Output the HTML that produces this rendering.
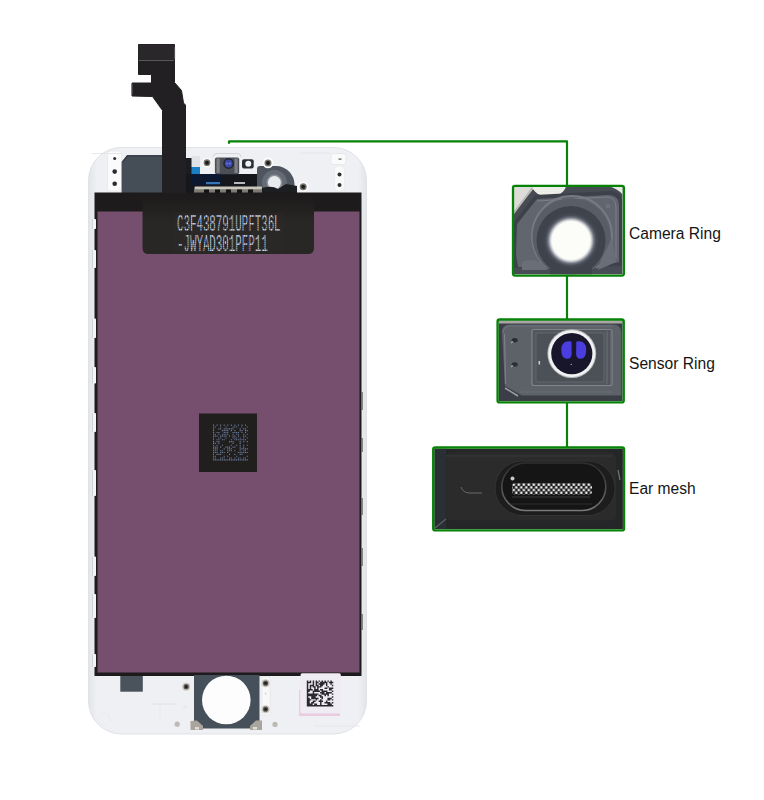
<!DOCTYPE html>
<html><head><meta charset="utf-8">
<style>
html,body{margin:0;padding:0;background:#fff;width:764px;height:800px;overflow:hidden}
svg{position:absolute;left:0;top:0}
.lbl{position:absolute;font-family:"Liberation Sans",sans-serif;font-size:15.6px;color:#151515;white-space:nowrap;line-height:1}
</style></head><body>
<svg width="764" height="800" viewBox="0 0 764 800">
  <defs>
    <linearGradient id="frameL" x1="0" x2="1" y1="0" y2="0">
      <stop offset="0" stop-color="#e2e4e8"/>
      <stop offset="0.03" stop-color="#eff0f3"/>
      <stop offset="0.97" stop-color="#eff0f3"/>
      <stop offset="1" stop-color="#e2e4e8"/>
    </linearGradient>
    <radialGradient id="glow" cx="0.5" cy="0.5" r="0.5">
      <stop offset="0.69" stop-color="#f6f6f0"/>
      <stop offset="0.75" stop-color="#c0c3ca"/>
      <stop offset="0.82" stop-color="#6f7480"/>
      <stop offset="0.9" stop-color="#484c56"/>
      <stop offset="1" stop-color="#3f434c"/>
    </radialGradient>
    <radialGradient id="camring" cx="0.5" cy="0.5" r="0.5">
      <stop offset="0.5" stop-color="#3a3f48"/>
      <stop offset="0.8" stop-color="#4a4f58"/>
      <stop offset="1" stop-color="#5e636c"/>
    </radialGradient>
  </defs>

  <!-- phone frame -->
  <rect x="88.5" y="147.5" width="278" height="586.5" rx="33" ry="33" fill="url(#frameL)" stroke="#dfe2e6" stroke-width="1"/>

  <!-- top left raised strip with screws -->
  <rect x="107.5" y="151" width="14" height="40" rx="3" fill="#fbfbfc" stroke="#e6e8eb" stroke-width="0.8"/>
  <circle cx="114.7" cy="158.5" r="1.5" fill="#2a2c30"/>
  <circle cx="114.7" cy="171.6" r="2.3" fill="#2a2c30"/>
  <circle cx="114.7" cy="183.7" r="2.3" fill="#2a2c30"/>

  <!-- dark grey panel top-left -->
  <path d="M121.6,162 L127,155 L163,155 L163,193 L121.6,193 Z" fill="#454d57"/>
  <path d="M122.5,162 L127.5,156 L162,156" fill="none" stroke="#343a44" stroke-width="1.2"/>
  <path d="M92,153.5 L122,153.5 M300,153 L330,153" stroke="#e0e2e6" stroke-width="0.8"/>

  <!-- top right bump and screws -->
  <rect x="331" y="153.6" width="15" height="11" rx="2" fill="#fafafb" stroke="#e2e4e8" stroke-width="0.8"/>
  <rect x="338.5" y="158.5" width="3" height="1.2" fill="#555"/>
  <rect x="334.5" y="166" width="10" height="25" rx="4" fill="#f9f9fa" stroke="#e6e8eb" stroke-width="0.6"/>
  <circle cx="339.5" cy="174.5" r="2" fill="#2a2c30"/>
  <circle cx="339.5" cy="185" r="2" fill="#2a2c30"/>

  <!-- top middle components -->
  <rect x="186" y="158" width="6" height="35" fill="#1a1c22"/>
  <rect x="186" y="174" width="78" height="19" fill="#15171c"/>
  <rect x="191.5" y="156" width="8.5" height="11" fill="#dfe3e8"/>
  <rect x="191.5" y="167" width="8.5" height="7" fill="#1a7fc4"/>
  <rect x="191" y="174" width="30" height="11" fill="#0c1830"/>
  <rect x="206" y="182" width="14" height="2.2" fill="#3576b8"/>
  <circle cx="207" cy="162.7" r="4.8" fill="#fdfdfd"/>
  <circle cx="207" cy="162.7" r="3.4" fill="#77736f"/>
  <circle cx="207" cy="162.7" r="2" fill="#1b1b1b"/>
  <!-- sensor module -->
  <path d="M213,157 Q213,153.5 217,153.5 L237,153.5 Q241,153.5 241,157" fill="none" stroke="#d3d5d9" stroke-width="1"/>
  <rect x="214.9" y="157.6" width="24.3" height="16.6" rx="2" fill="#4c5056"/>
  <rect x="216.5" y="158.5" width="3.2" height="14.5" fill="#8d9197" opacity="0.75"/>
  <rect x="234.5" y="158.5" width="3.2" height="14.5" fill="#8d9197" opacity="0.75"/>
  <circle cx="228.6" cy="163.5" r="5.4" fill="#23262e"/>
  <circle cx="228.6" cy="163.5" r="3.9" fill="#3b47a6"/>
  <circle cx="227.2" cy="163.6" r="1.1" fill="#6c78d6"/>
  <circle cx="230" cy="163.6" r="1.1" fill="#6c78d6"/>
  <!-- proximity -->
  <rect x="242" y="159.2" width="11.7" height="9.2" rx="2" fill="#2b2e33"/>
  <circle cx="248.3" cy="163.8" r="3" fill="#f0f1f3"/>
  <rect x="234" y="182" width="11" height="2" fill="#b5b8bd"/>
  <!-- camera ring -->
  <path d="M257,169 Q257,166 260,166 L276,166 A18.5,18.5 0 0 1 294.5,184.5 L294.5,193 L257,193 Z" fill="#4f555e"/>
  <circle cx="274.4" cy="182.6" r="12.5" fill="#656b74"/>
  <circle cx="274.4" cy="182.6" r="8" fill="#8a9098"/>
  <circle cx="274.4" cy="182.6" r="6.5" fill="#e9eaee"/>
  <!-- screw -->
  <circle cx="268" cy="162.9" r="5.4" fill="#fdfdfd"/>
  <circle cx="268" cy="162.9" r="3.5" fill="#77736f"/>
  <circle cx="268" cy="162.9" r="2" fill="#1b1b1b"/>
  <!-- connector strip -->
  <rect x="194" y="189" width="68" height="4" fill="#7d7a72"/>
  <rect x="194.5" y="186.6" width="67.5" height="2.6" rx="1" fill="#c9c6bc"/>
  <g fill="#121212">
    <rect x="204" y="189.5" width="5" height="3.5"/><rect x="215" y="189.5" width="5" height="3.5"/><rect x="226" y="189.5" width="5" height="3.5"/>
    <rect x="237" y="189.5" width="5" height="3.5"/><rect x="248" y="189.5" width="5" height="3.5"/>
  </g>
  <path d="M262,193 L262,188 Q272,185 278,189 L286,184 L297,186 L297,193 Z" fill="#1d1e22"/>
  <!-- screw right of camera -->
  <circle cx="303.2" cy="186.7" r="5" fill="#fdfdfd"/>
  <circle cx="303.2" cy="186.7" r="3.5" fill="#77736f"/>
  <circle cx="303.2" cy="186.7" r="2" fill="#1b1b1b"/>

  <!-- black display border -->
  <rect x="94.5" y="192.5" width="267" height="483.5" fill="#1d1b1b"/>
  <!-- purple -->
  <rect x="97.5" y="211.5" width="262" height="461" fill="#764f6f"/>

  <!-- edge tabs -->
  <g fill="#f4f5f7"><rect x="92" y="219" width="4" height="10" rx="0.8"/><rect x="92" y="250" width="4" height="18" rx="0.8"/><rect x="92" y="318.5" width="4" height="19.5" rx="0.8"/><rect x="92" y="367" width="4" height="16.5" rx="0.8"/><rect x="92" y="413" width="4" height="19" rx="0.8"/><rect x="92" y="470" width="4" height="26" rx="0.8"/><rect x="92" y="556.5" width="4" height="19.5" rx="0.8"/><rect x="92" y="594" width="4" height="24" rx="0.8"/><rect x="92" y="654" width="4" height="13" rx="0.8"/></g><g fill="#c9cbcf"><rect x="92" y="219" width="0.8" height="10"/><rect x="92" y="250" width="0.8" height="18"/><rect x="92" y="318.5" width="0.8" height="19.5"/><rect x="92" y="367" width="0.8" height="16.5"/><rect x="92" y="413" width="0.8" height="19"/><rect x="92" y="470" width="0.8" height="26"/><rect x="92" y="556.5" width="0.8" height="19.5"/><rect x="92" y="594" width="0.8" height="24"/><rect x="92" y="654" width="0.8" height="13"/></g><g fill="#6d6e72"><rect x="361.2" y="392" width="1.6" height="18"/><rect x="361.2" y="438" width="1.6" height="14"/><rect x="361.2" y="498" width="1.6" height="17"/><rect x="361.2" y="548" width="1.6" height="18"/><rect x="361.2" y="614" width="1.6" height="16"/></g>
  <!-- serial label -->
  <linearGradient id="lblg" gradientUnits="userSpaceOnUse" x1="0" y1="196" x2="0" y2="222"><stop offset="0" stop-color="#1d1b1b"/><stop offset="1" stop-color="#292725"/></linearGradient>
  <path d="M142.5,193 L314,193 L314,248 Q314,254 308,254 L148.5,254 Q142.5,254 142.5,248 Z" fill="url(#lblg)"/>
  <g font-family="Liberation Mono" font-size="20" fill="#d0dcf0">
    <text transform="translate(177,230.9) scale(0.54,1.16)">C3F438791UPFT36L</text>
    <text transform="translate(177,250.9) scale(0.54,1.16)">-JWYAD301PFP11</text>
  </g>
  <pattern id="dots" x="0" y="0" width="2.1" height="2.1" patternUnits="userSpaceOnUse">
    <rect x="0" y="1.35" width="2.1" height="0.75" fill="#2b2927" opacity="0.5"/>
    <rect x="1.35" y="0" width="0.75" height="2.1" fill="#2b2927" opacity="0.5"/>
  </pattern>
  <rect x="174" y="213" width="110" height="40" fill="url(#dots)"/>
  <!-- QR center -->
  <rect x="199" y="413.5" width="58" height="58.5" fill="#211e1e"/>
  <path transform="translate(213,424.6) scale(1.7750,1.8250)" fill="#6a7fa0" d="M0 0h0.62v0.62h-0.62zM2 0h0.62v0.62h-0.62zM4 0h0.62v0.62h-0.62zM6 0h0.62v0.62h-0.62zM8 0h0.62v0.62h-0.62zM10 0h0.62v0.62h-0.62zM12 0h0.62v0.62h-0.62zM14 0h0.62v0.62h-0.62zM16 0h0.62v0.62h-0.62zM18 0h0.62v0.62h-0.62zM0 1h0.62v0.62h-0.62zM1 1h0.62v0.62h-0.62zM4 1h0.62v0.62h-0.62zM7 1h0.62v0.62h-0.62zM11 1h0.62v0.62h-0.62zM12 1h0.62v0.62h-0.62zM13 1h0.62v0.62h-0.62zM16 1h0.62v0.62h-0.62zM19 1h0.62v0.62h-0.62zM0 2h0.62v0.62h-0.62zM3 2h0.62v0.62h-0.62zM4 2h0.62v0.62h-0.62zM6 2h0.62v0.62h-0.62zM7 2h0.62v0.62h-0.62zM8 2h0.62v0.62h-0.62zM9 2h0.62v0.62h-0.62zM10 2h0.62v0.62h-0.62zM11 2h0.62v0.62h-0.62zM15 2h0.62v0.62h-0.62zM17 2h0.62v0.62h-0.62zM18 2h0.62v0.62h-0.62zM0 3h0.62v0.62h-0.62zM5 3h0.62v0.62h-0.62zM6 3h0.62v0.62h-0.62zM7 3h0.62v0.62h-0.62zM8 3h0.62v0.62h-0.62zM10 3h0.62v0.62h-0.62zM12 3h0.62v0.62h-0.62zM15 3h0.62v0.62h-0.62zM16 3h0.62v0.62h-0.62zM18 3h0.62v0.62h-0.62zM19 3h0.62v0.62h-0.62zM0 4h0.62v0.62h-0.62zM2 4h0.62v0.62h-0.62zM3 4h0.62v0.62h-0.62zM6 4h0.62v0.62h-0.62zM7 4h0.62v0.62h-0.62zM8 4h0.62v0.62h-0.62zM11 4h0.62v0.62h-0.62zM12 4h0.62v0.62h-0.62zM13 4h0.62v0.62h-0.62zM14 4h0.62v0.62h-0.62zM16 4h0.62v0.62h-0.62zM18 4h0.62v0.62h-0.62zM0 5h0.62v0.62h-0.62zM1 5h0.62v0.62h-0.62zM3 5h0.62v0.62h-0.62zM5 5h0.62v0.62h-0.62zM6 5h0.62v0.62h-0.62zM7 5h0.62v0.62h-0.62zM8 5h0.62v0.62h-0.62zM11 5h0.62v0.62h-0.62zM13 5h0.62v0.62h-0.62zM14 5h0.62v0.62h-0.62zM17 5h0.62v0.62h-0.62zM19 5h0.62v0.62h-0.62zM0 6h0.62v0.62h-0.62zM1 6h0.62v0.62h-0.62zM2 6h0.62v0.62h-0.62zM4 6h0.62v0.62h-0.62zM5 6h0.62v0.62h-0.62zM6 6h0.62v0.62h-0.62zM7 6h0.62v0.62h-0.62zM9 6h0.62v0.62h-0.62zM11 6h0.62v0.62h-0.62zM12 6h0.62v0.62h-0.62zM14 6h0.62v0.62h-0.62zM17 6h0.62v0.62h-0.62zM18 6h0.62v0.62h-0.62zM0 7h0.62v0.62h-0.62zM3 7h0.62v0.62h-0.62zM4 7h0.62v0.62h-0.62zM7 7h0.62v0.62h-0.62zM11 7h0.62v0.62h-0.62zM12 7h0.62v0.62h-0.62zM13 7h0.62v0.62h-0.62zM15 7h0.62v0.62h-0.62zM17 7h0.62v0.62h-0.62zM19 7h0.62v0.62h-0.62zM0 8h0.62v0.62h-0.62zM2 8h0.62v0.62h-0.62zM3 8h0.62v0.62h-0.62zM5 8h0.62v0.62h-0.62zM6 8h0.62v0.62h-0.62zM10 8h0.62v0.62h-0.62zM12 8h0.62v0.62h-0.62zM13 8h0.62v0.62h-0.62zM14 8h0.62v0.62h-0.62zM15 8h0.62v0.62h-0.62zM16 8h0.62v0.62h-0.62zM17 8h0.62v0.62h-0.62zM18 8h0.62v0.62h-0.62zM0 9h0.62v0.62h-0.62zM2 9h0.62v0.62h-0.62zM3 9h0.62v0.62h-0.62zM9 9h0.62v0.62h-0.62zM10 9h0.62v0.62h-0.62zM11 9h0.62v0.62h-0.62zM15 9h0.62v0.62h-0.62zM17 9h0.62v0.62h-0.62zM19 9h0.62v0.62h-0.62zM0 10h0.62v0.62h-0.62zM1 10h0.62v0.62h-0.62zM3 10h0.62v0.62h-0.62zM11 10h0.62v0.62h-0.62zM15 10h0.62v0.62h-0.62zM0 11h0.62v0.62h-0.62zM2 11h0.62v0.62h-0.62zM5 11h0.62v0.62h-0.62zM10 11h0.62v0.62h-0.62zM13 11h0.62v0.62h-0.62zM15 11h0.62v0.62h-0.62zM17 11h0.62v0.62h-0.62zM19 11h0.62v0.62h-0.62zM0 12h0.62v0.62h-0.62zM1 12h0.62v0.62h-0.62zM2 12h0.62v0.62h-0.62zM4 12h0.62v0.62h-0.62zM7 12h0.62v0.62h-0.62zM8 12h0.62v0.62h-0.62zM9 12h0.62v0.62h-0.62zM11 12h0.62v0.62h-0.62zM12 12h0.62v0.62h-0.62zM15 12h0.62v0.62h-0.62zM17 12h0.62v0.62h-0.62zM0 13h0.62v0.62h-0.62zM1 13h0.62v0.62h-0.62zM2 13h0.62v0.62h-0.62zM6 13h0.62v0.62h-0.62zM8 13h0.62v0.62h-0.62zM9 13h0.62v0.62h-0.62zM10 13h0.62v0.62h-0.62zM15 13h0.62v0.62h-0.62zM16 13h0.62v0.62h-0.62zM17 13h0.62v0.62h-0.62zM18 13h0.62v0.62h-0.62zM19 13h0.62v0.62h-0.62zM0 14h0.62v0.62h-0.62zM1 14h0.62v0.62h-0.62zM2 14h0.62v0.62h-0.62zM4 14h0.62v0.62h-0.62zM5 14h0.62v0.62h-0.62zM8 14h0.62v0.62h-0.62zM9 14h0.62v0.62h-0.62zM10 14h0.62v0.62h-0.62zM12 14h0.62v0.62h-0.62zM15 14h0.62v0.62h-0.62zM17 14h0.62v0.62h-0.62zM18 14h0.62v0.62h-0.62zM0 15h0.62v0.62h-0.62zM1 15h0.62v0.62h-0.62zM2 15h0.62v0.62h-0.62zM4 15h0.62v0.62h-0.62zM5 15h0.62v0.62h-0.62zM6 15h0.62v0.62h-0.62zM8 15h0.62v0.62h-0.62zM14 15h0.62v0.62h-0.62zM15 15h0.62v0.62h-0.62zM16 15h0.62v0.62h-0.62zM17 15h0.62v0.62h-0.62zM18 15h0.62v0.62h-0.62zM19 15h0.62v0.62h-0.62zM0 16h0.62v0.62h-0.62zM2 16h0.62v0.62h-0.62zM3 16h0.62v0.62h-0.62zM4 16h0.62v0.62h-0.62zM9 16h0.62v0.62h-0.62zM12 16h0.62v0.62h-0.62zM15 16h0.62v0.62h-0.62zM16 16h0.62v0.62h-0.62zM0 17h0.62v0.62h-0.62zM1 17h0.62v0.62h-0.62zM6 17h0.62v0.62h-0.62zM8 17h0.62v0.62h-0.62zM13 17h0.62v0.62h-0.62zM19 17h0.62v0.62h-0.62zM0 18h0.62v0.62h-0.62zM1 18h0.62v0.62h-0.62zM4 18h0.62v0.62h-0.62zM5 18h0.62v0.62h-0.62zM6 18h0.62v0.62h-0.62zM9 18h0.62v0.62h-0.62zM10 18h0.62v0.62h-0.62zM12 18h0.62v0.62h-0.62zM14 18h0.62v0.62h-0.62zM15 18h0.62v0.62h-0.62zM17 18h0.62v0.62h-0.62zM18 18h0.62v0.62h-0.62zM0 19h0.62v0.62h-0.62zM1 19h0.62v0.62h-0.62zM2 19h0.62v0.62h-0.62zM3 19h0.62v0.62h-0.62zM4 19h0.62v0.62h-0.62zM5 19h0.62v0.62h-0.62zM6 19h0.62v0.62h-0.62zM7 19h0.62v0.62h-0.62zM8 19h0.62v0.62h-0.62zM9 19h0.62v0.62h-0.62zM10 19h0.62v0.62h-0.62zM11 19h0.62v0.62h-0.62zM12 19h0.62v0.62h-0.62zM13 19h0.62v0.62h-0.62zM14 19h0.62v0.62h-0.62zM15 19h0.62v0.62h-0.62zM16 19h0.62v0.62h-0.62zM17 19h0.62v0.62h-0.62zM18 19h0.62v0.62h-0.62zM19 19h0.62v0.62h-0.62z"/>

  <!-- bottom components -->
  <rect x="120.3" y="676" width="22.5" height="15.7" fill="#4a525c"/>
  <path d="M194,675 L259.5,675 L259.5,720 Q259.5,728.5 251,728.5 L202.5,728.5 Q194,728.5 194,720 Z" fill="#46505a"/>
  <circle cx="226.3" cy="700" r="24.3" fill="#fdfdfd"/>
  <!-- faint frame lines -->
  <path d="M152,704 L176,704 M183,707 L187,707" stroke="#dcdde0" stroke-width="0.8"/>
  <path d="M160,704 L160,720" stroke="#e6e7ea" stroke-width="0.6"/>
  <path d="M314,726 L360,726" stroke="#e3e4e7" stroke-width="0.8"/>
  <circle cx="104" cy="719" r="6" fill="none" stroke="#e7e8eb" stroke-width="0.8"/>
  <rect x="262" y="677" width="8" height="38" rx="2" fill="#f8f8f9" stroke="#e3e4e7" stroke-width="0.6"/>
  <!-- screws -->
  <circle cx="186.2" cy="686.7" r="4" fill="#c9c6c0"/>
  <circle cx="186.2" cy="686.7" r="2.6" fill="#57534e"/>
  <circle cx="186.2" cy="686.7" r="1.3" fill="#1a1a1a"/>
  <circle cx="265.6" cy="683.2" r="4" fill="#c9c6c0"/>
  <circle cx="265.6" cy="683.2" r="2.6" fill="#57534e"/>
  <circle cx="265.6" cy="683.2" r="1.3" fill="#1a1a1a"/>
  <circle cx="265.6" cy="709.2" r="4" fill="#c9c6c0"/>
  <circle cx="265.6" cy="709.2" r="2.6" fill="#57534e"/>
  <circle cx="265.6" cy="709.2" r="1.3" fill="#1a1a1a"/>
  <circle cx="265.6" cy="693.5" r="0.9" fill="#cfd0d3"/>
  <circle cx="177.2" cy="724.2" r="2.6" fill="#bdbab5"/>
  <circle cx="275" cy="724.4" r="2.6" fill="#bdbab5"/>
  <!-- clips -->
  <path d="M190.5,721 L197,720.5 L203,726 L203,730 L190.5,730 Z" fill="#a9a59e"/>
  <rect x="195" y="727" width="4" height="2.5" fill="#e0ded9"/>
  <path d="M262,720.5 L256,720.5 L250,726 L250,730 L262,730 Z" fill="#a9a59e"/>
  <rect x="253" y="727" width="4" height="2.5" fill="#e0ded9"/>
  <path d="M299,690 L300.6,690 L300.6,713.2 L340,713.2 L340,716 L299,716 Z" fill="#eccbe0"/>
  <rect x="300.6" y="673.2" width="40.2" height="40" rx="1.5" fill="#efecf3"/>
  <path transform="translate(306.8,680.4) scale(1.4722,1.4444)" fill="#2a2a2e" d="M0 0h1v1h-1zM2 0h1v1h-1zM4 0h1v1h-1zM6 0h1v1h-1zM8 0h1v1h-1zM10 0h1v1h-1zM12 0h1v1h-1zM14 0h1v1h-1zM16 0h1v1h-1zM0 1h1v1h-1zM1 1h1v1h-1zM2 1h1v1h-1zM4 1h1v1h-1zM6 1h1v1h-1zM7 1h1v1h-1zM9 1h1v1h-1zM10 1h1v1h-1zM11 1h1v1h-1zM12 1h1v1h-1zM13 1h1v1h-1zM15 1h1v1h-1zM16 1h1v1h-1zM17 1h1v1h-1zM0 2h1v1h-1zM4 2h1v1h-1zM6 2h1v1h-1zM8 2h1v1h-1zM9 2h1v1h-1zM10 2h1v1h-1zM11 2h1v1h-1zM13 2h1v1h-1zM16 2h1v1h-1zM0 3h1v1h-1zM2 3h1v1h-1zM3 3h1v1h-1zM4 3h1v1h-1zM6 3h1v1h-1zM7 3h1v1h-1zM9 3h1v1h-1zM10 3h1v1h-1zM13 3h1v1h-1zM17 3h1v1h-1zM0 4h1v1h-1zM2 4h1v1h-1zM4 4h1v1h-1zM5 4h1v1h-1zM7 4h1v1h-1zM8 4h1v1h-1zM9 4h1v1h-1zM14 4h1v1h-1zM0 5h1v1h-1zM2 5h1v1h-1zM5 5h1v1h-1zM7 5h1v1h-1zM12 5h1v1h-1zM13 5h1v1h-1zM15 5h1v1h-1zM16 5h1v1h-1zM17 5h1v1h-1zM0 6h1v1h-1zM1 6h1v1h-1zM2 6h1v1h-1zM3 6h1v1h-1zM5 6h1v1h-1zM6 6h1v1h-1zM7 6h1v1h-1zM9 6h1v1h-1zM10 6h1v1h-1zM15 6h1v1h-1zM16 6h1v1h-1zM0 7h1v1h-1zM1 7h1v1h-1zM4 7h1v1h-1zM5 7h1v1h-1zM6 7h1v1h-1zM7 7h1v1h-1zM8 7h1v1h-1zM10 7h1v1h-1zM11 7h1v1h-1zM12 7h1v1h-1zM13 7h1v1h-1zM17 7h1v1h-1zM0 8h1v1h-1zM4 8h1v1h-1zM9 8h1v1h-1zM10 8h1v1h-1zM11 8h1v1h-1zM13 8h1v1h-1zM14 8h1v1h-1zM15 8h1v1h-1zM16 8h1v1h-1zM0 9h1v1h-1zM1 9h1v1h-1zM2 9h1v1h-1zM3 9h1v1h-1zM4 9h1v1h-1zM5 9h1v1h-1zM6 9h1v1h-1zM7 9h1v1h-1zM10 9h1v1h-1zM11 9h1v1h-1zM12 9h1v1h-1zM13 9h1v1h-1zM14 9h1v1h-1zM17 9h1v1h-1zM0 10h1v1h-1zM1 10h1v1h-1zM2 10h1v1h-1zM3 10h1v1h-1zM4 10h1v1h-1zM5 10h1v1h-1zM6 10h1v1h-1zM8 10h1v1h-1zM9 10h1v1h-1zM12 10h1v1h-1zM14 10h1v1h-1zM0 11h1v1h-1zM3 11h1v1h-1zM4 11h1v1h-1zM5 11h1v1h-1zM9 11h1v1h-1zM10 11h1v1h-1zM17 11h1v1h-1zM0 12h1v1h-1zM1 12h1v1h-1zM3 12h1v1h-1zM4 12h1v1h-1zM5 12h1v1h-1zM6 12h1v1h-1zM7 12h1v1h-1zM10 12h1v1h-1zM14 12h1v1h-1zM15 12h1v1h-1zM16 12h1v1h-1zM0 13h1v1h-1zM1 13h1v1h-1zM2 13h1v1h-1zM6 13h1v1h-1zM9 13h1v1h-1zM14 13h1v1h-1zM15 13h1v1h-1zM17 13h1v1h-1zM0 14h1v1h-1zM1 14h1v1h-1zM4 14h1v1h-1zM5 14h1v1h-1zM8 14h1v1h-1zM9 14h1v1h-1zM10 14h1v1h-1zM13 14h1v1h-1zM0 15h1v1h-1zM1 15h1v1h-1zM3 15h1v1h-1zM4 15h1v1h-1zM9 15h1v1h-1zM12 15h1v1h-1zM13 15h1v1h-1zM14 15h1v1h-1zM15 15h1v1h-1zM17 15h1v1h-1zM0 16h1v1h-1zM1 16h1v1h-1zM2 16h1v1h-1zM3 16h1v1h-1zM5 16h1v1h-1zM6 16h1v1h-1zM9 16h1v1h-1zM14 16h1v1h-1zM15 16h1v1h-1zM16 16h1v1h-1zM0 17h1v1h-1zM1 17h1v1h-1zM2 17h1v1h-1zM3 17h1v1h-1zM4 17h1v1h-1zM5 17h1v1h-1zM6 17h1v1h-1zM7 17h1v1h-1zM8 17h1v1h-1zM9 17h1v1h-1zM10 17h1v1h-1zM11 17h1v1h-1zM12 17h1v1h-1zM13 17h1v1h-1zM14 17h1v1h-1zM15 17h1v1h-1zM16 17h1v1h-1zM17 17h1v1h-1z"/>

  <!-- flex cable -->
  <path d="M138.5,44.5 L174.5,44.5 L174.5,82.5 L181.5,90.5 L183.5,103 L185.5,105 L185.5,193 L162.5,193 L162.5,110.5 L152.5,96.5 L132,96 L132,83 L151.5,83 L151.5,74.5 L138.5,74.5 Z" fill="#222022" stroke="#222022" stroke-width="1" stroke-linejoin="round"/>
  <rect x="138.5" y="44.5" width="36" height="16" fill="#29272a"/>
  <path d="M139,60.5 L174,60.5" stroke="#58575a" stroke-width="1"/>
  <path d="M174.6,47 L174.6,59" stroke="#5a5a5c" stroke-width="0.9"/>
  <path d="M132,84 L132,95" stroke="#6a6a6c" stroke-width="0.9"/>

  <!-- green lines -->
  <path d="M229,143.8 L229,141.3 L567,141.3 L567,185" fill="none" stroke-linejoin="round" stroke="#068306" stroke-width="2.2"/>
  <path d="M567,275 L567,319" fill="none" stroke="#068306" stroke-width="2.2"/>
  <path d="M567,402 L567,447" fill="none" stroke="#068306" stroke-width="2.2"/>

  <!-- camera box -->
  <clipPath id="cbox"><rect x="513.9" y="186.8" width="108.6" height="87.4"/></clipPath>
  <g clip-path="url(#cbox)">
    <rect x="510" y="183" width="118" height="95" fill="#474b53"/>
    <path d="M510,183 L538,183 L513,214 L510,214 Z" fill="#dddcd8"/>
    <path d="M534,186 L513,214" stroke="#b9b9b6" stroke-width="2"/>
    <ellipse cx="549" cy="185" rx="17" ry="11.5" fill="#eeeee8"/>
    <path d="M608,183 L628,183 L628,205 Q624,190 608,186 Z" fill="#e6e6e4"/>
    <!-- bracket outline dark -->
    <path d="M514,222 L535,195 L610,191 Q622,191 622,204 L622,266 L514,268 Z" fill="#3d414a"/>
    <!-- bracket -->
    <path d="M517,224 L537,199 L608,195 Q619,195 619,206 L619,262 L592,268 L548,268 L518,267 L516,255 Z" fill="#60656e"/>
    <path d="M537,201 L606,197 Q616,197 616,207 L616,258" fill="none" stroke="#7b8088" stroke-width="1"/>
    <circle cx="608" cy="206" r="1.6" fill="none" stroke="#7d828a" stroke-width="0.8"/>
    <!-- lip arc -->
    <path d="M548,268 A40,40 0 1 1 596,268" fill="none" stroke="#767b83" stroke-width="2"/>
    <path d="M549,269 A39,39 0 1 1 594,269" fill="#585d66"/>
    <!-- dark ring -->
    <circle cx="571" cy="240.5" r="34.5" fill="#3f434c"/>
    <rect x="550" y="240" width="42" height="38" fill="#3f434c"/>
    <circle cx="571" cy="240.5" r="28" fill="url(#glow)"/>
    <circle cx="571" cy="240.5" r="19" fill="#fcfcf8"/>
    <path d="M522,262 Q530,258 540,262 L548,270 L522,270 Z" fill="#6a6f77"/>
    <path d="M600,262 Q606,250 612,238 L616,262 L598,270 Z" fill="#6a6f77"/>
  </g>
  <rect x="513" y="185.8" width="110.9" height="89.8" rx="2" fill="none" stroke="#068306" stroke-width="2.3"/>

  <!-- sensor box -->
  <clipPath id="sbox"><rect x="498.6" y="320.7" width="124" height="80.4"/></clipPath>
  <g clip-path="url(#sbox)">
    <rect x="495" y="318" width="130" height="86" fill="#3b3e47"/>
    <rect x="495" y="320" width="130" height="3.5" fill="#a9a6a4"/>
    <!-- bracket -->
    <path d="M502,332 Q502,324.5 510,324.5 L613,324.5 Q621.3,324.5 621.3,333 L621.3,395.5 L522,395.5 L505,386 Z" fill="#5d6168"/>
    <path d="M503,333 Q503,326 511,326 L612,326" fill="none" stroke="#6f737a" stroke-width="1"/>
    <!-- inner stepped frame -->
    <rect x="532" y="329.5" width="80" height="56" rx="2" fill="#52565d" stroke="#80848b" stroke-width="1.2"/>
    <path d="M504.5,334 L505.5,384" stroke="#7c8087" stroke-width="1.2"/>
    <rect x="536" y="333" width="68" height="49" rx="1" fill="#4c5057" stroke="#676b72" stroke-width="0.8"/>
    <path d="M607,331 L607,384 M611,331 L611,385" stroke="#6d7178" stroke-width="1"/>
    <path d="M520,392 L612,392" stroke="#6a6e75" stroke-width="1"/>
    <path d="M505,388 L518,396" stroke="#9a9da2" stroke-width="1.5"/>
    <!-- holes -->
    <ellipse cx="514.7" cy="340.2" rx="3" ry="2.2" fill="#2b2e34"/>
    <path d="M511,343 L513,341.5" stroke="#a8abb0" stroke-width="1.2"/>
    <ellipse cx="514.7" cy="364.4" rx="3" ry="2.2" fill="#2b2e34"/>
    <path d="M511,367 L513,365.5" stroke="#a8abb0" stroke-width="1.2"/>
    <rect x="538.5" y="361" width="1.6" height="3.5" fill="#c9cbcf"/>
    <!-- lens -->
    <circle cx="571.8" cy="353.6" r="24.4" fill="#b9bbbe"/>
    <circle cx="571.8" cy="353.6" r="23.4" fill="#f1f2f2"/>
    <circle cx="571.8" cy="353.6" r="20.6" fill="#17162a"/>
    <path d="M571.5,341.5 Q562,339.5 561.3,349 Q561,358.5 566.5,358.8 Q571.5,359.2 571.7,354 Z" fill="#4a3ee0"/>
    <path d="M576.3,341.5 Q585.5,339.5 586.2,349 Q586.5,358.5 581,358.8 Q576.3,359.2 576.1,354 Z" fill="#4a3ee0"/>
    <circle cx="571.3" cy="364.4" r="0.7" fill="#aaa"/>
  </g>
  <rect x="497.55" y="319.5" width="126.2" height="82.9" rx="2" fill="none" stroke="#068306" stroke-width="2.3"/>

  <!-- ear box -->
  <pattern id="mesh" x="512.5" y="483.2" width="5" height="5.4" patternUnits="userSpaceOnUse">
    <rect width="5" height="5.4" fill="#1a1a1a"/>
    <rect x="0.05" y="0.2" width="2.5" height="2.5" rx="1" fill="#f8f8f8"/>
    <rect x="2.55" y="2.9" width="2.5" height="2.5" rx="1" fill="#f8f8f8"/>
  </pattern>
  <clipPath id="ebox"><rect x="434.5" y="448.8" width="188.4" height="80.2"/></clipPath>
  <g clip-path="url(#ebox)">
    <rect x="430" y="444" width="196" height="90" fill="#252628"/>
    <rect x="430" y="444" width="16" height="90" fill="#2a2e35"/>
    <path d="M435,528 L446,519" stroke="#5a5f66" stroke-width="1.2"/>
    <rect x="445" y="452.5" width="171" height="68" rx="6" fill="#2b2b2c"/>
    <path d="M446,456 L612,456" stroke="#383839" stroke-width="1"/>
    <path d="M461,487 Q463,493 470,493 L482,493" fill="none" stroke="#6a6a6a" stroke-width="1"/>
    <!-- pill -->
    <rect x="495" y="461" width="120" height="54.5" rx="27" fill="#1d1d1e" stroke="#343435" stroke-width="1"/>
    <linearGradient id="rimg" gradientUnits="userSpaceOnUse" x1="0" y1="463" x2="0" y2="511"><stop offset="0" stop-color="#2e2e30"/><stop offset="0.5" stop-color="#4a4a4c"/><stop offset="1" stop-color="#7a7a7c"/></linearGradient>
    <rect x="501.8" y="463" width="104" height="47.5" rx="23.7" fill="#151516" stroke="url(#rimg)" stroke-width="1.6"/>
    <path d="M512,497 L590,497" stroke="#3a3a3b" stroke-width="1"/>
    <path d="M510,504 L592,504" stroke="#2e2e2f" stroke-width="1"/>
    <rect x="512" y="483" width="80" height="11.6" rx="3" fill="url(#mesh)"/>
    <circle cx="512.5" cy="478.6" r="2" fill="#c8c8c8"/>
    
    <path d="M618,470 L620,480" stroke="#7a7a7a" stroke-width="1.2"/>
  </g>
  <rect x="433.2" y="447.5" width="190.9" height="82.9" rx="2" fill="none" stroke="#068306" stroke-width="2.3"/>
</svg>
<div class="lbl" style="left:629px;top:225.5px">Camera Ring</div>
<div class="lbl" style="left:629px;top:356.3px">Sensor Ring</div>
<div class="lbl" style="left:629px;top:481px">Ear mesh</div>
</body></html>
